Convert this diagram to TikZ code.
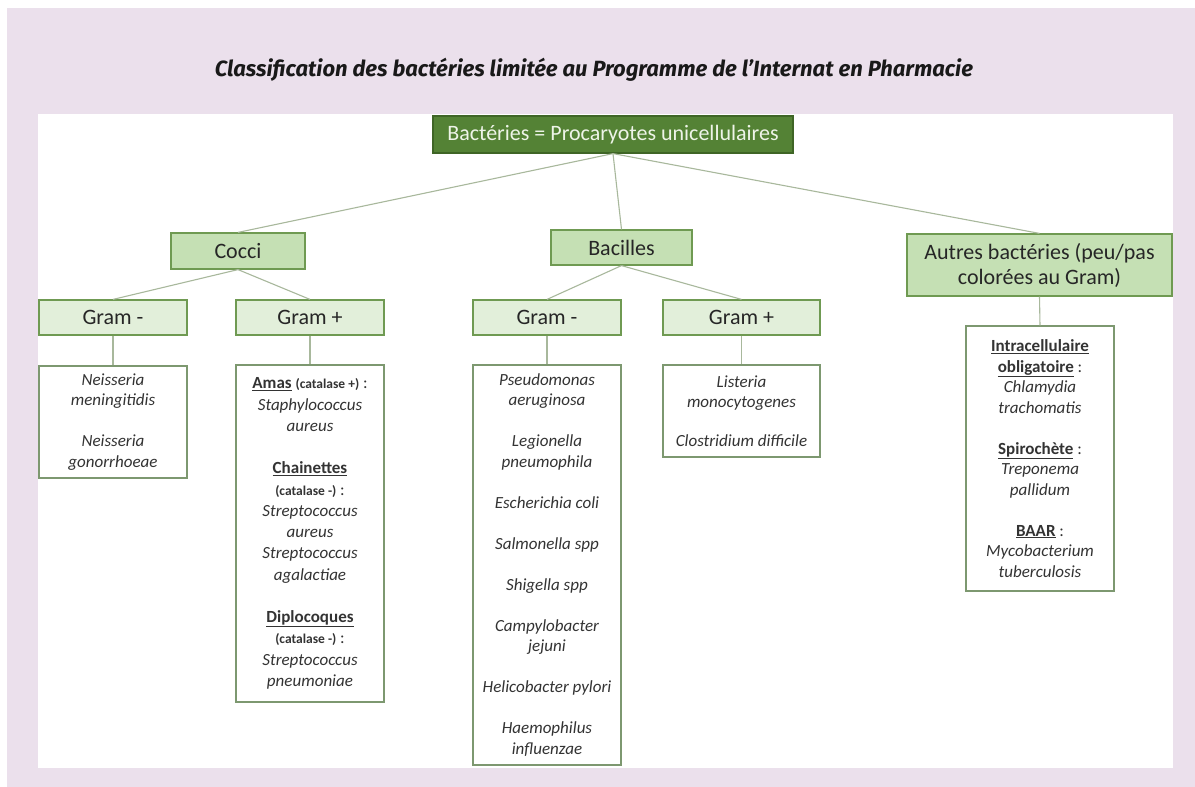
\documentclass[tikz,border=0pt]{standalone}
\usepackage{fontspec}
\setmainfont{Carlito}
\newfontfamily\titlefont{Fira Sans}
\definecolor{lav}{HTML}{EBE0EC}
\definecolor{rootfill}{HTML}{548235}
\definecolor{rootborder}{HTML}{3F6526}
\definecolor{midfill}{HTML}{C5E0B4}
\definecolor{gramfill}{HTML}{E2EFDA}
\definecolor{boxborder}{HTML}{6F9A52}
\definecolor{leafborder}{HTML}{7D9870}
\definecolor{edgecol}{HTML}{A8B89C}
\definecolor{leaftext}{HTML}{333333}
\definecolor{roottext}{HTML}{EEF4E8}
\newcommand{\hd}[1]{\textbf{\upshape\underline{#1}}}
\newcommand{\ct}[1]{{\upshape\bfseries\fontsize{13.5}{16}\selectfont #1}}
\begin{document}
\begin{tikzpicture}[x=1pt,y=-1pt,
  rootbox/.style={draw=rootborder,fill=rootfill,text=roottext,line width=1.2pt,inner sep=0pt,
    minimum width=360pt,minimum height=37pt,font=\fontsize{22}{26}\selectfont},
  midbox/.style={draw=boxborder,fill=midfill,text=black!85,line width=1.2pt,inner sep=0pt,
    align=center,font=\fontsize{22}{25}\selectfont},
  grambox/.style={midbox,fill=gramfill,minimum width=148pt,minimum height=35pt},
  leafbox/.style={draw=leafborder,fill=white,text=leaftext,line width=1.1pt,inner sep=0pt,
    align=center,minimum width=148pt,font=\fontsize{17}{20.5}\selectfont\itshape},
  edge/.style={draw=edgecol,line width=1.1pt}]
\useasboundingbox (0,0) rectangle (1195,787);
\fill[white] (0,0) rectangle (1195,787);
\fill[lav] (7,8) rectangle (1195,787);
\fill[white] (38,114) rectangle (1173,768);
\node[font=\titlefont\bfseries\itshape\fontsize{22}{26}\selectfont,text=black!90] (title) at (594,70)
  {Classification des bactéries limitée au Programme de l’Internat en Pharmacie};
% level 0
\node[rootbox] (root) at (613,134.5) {Bactéries = Procaryotes unicellulaires};
% level 1
\node[midbox,minimum width=134pt,minimum height=36pt] (cocci) at (238,251) {Cocci};
\node[midbox,minimum width=141pt,minimum height=35pt] (bacilles) at (621.5,247.5) {Bacilles};
\node[midbox,minimum width=265pt,minimum height=62pt] (autres) at (1039.5,265) {Autres bactéries (peu/pas\\colorées au Gram)};
% level 2
\node[grambox] (cgm) at (113,317.5) {Gram -};
\node[grambox] (cgp) at (310,317.5) {Gram +};
\node[grambox] (bgm) at (547,317.5) {Gram -};
\node[grambox,minimum width=157pt] (bgp) at (741.5,317.5) {Gram +};
% leaves
\node[leafbox,minimum height=112pt] (l1) at (113,422)
  {Neisseria\\meningitidis\\[20.5pt]Neisseria\\gonorrhoeae};
\node[leafbox,minimum height=337pt,font=\fontsize{17}{21.3}\selectfont\itshape] (l2) at (310,533.5)
  {\hd{Amas} \ct{(catalase +)} {\upshape :}\\Staphylococcus\\aureus\\[21pt]
   \hd{Chainettes}\\\ct{(catalase -)} {\upshape :}\\Streptococcus\\aureus\\Streptococcus\\agalactiae\\[21pt]
   \hd{Diplocoques}\\\ct{(catalase -)} {\upshape :}\\Streptococcus\\pneumoniae};
\node[leafbox,minimum height=400pt] (l3) at (547,565)
  {Pseudomonas\\aeruginosa\\[20.5pt]Legionella\\pneumophila\\[20.5pt]Escherichia coli\\[20.5pt]
   Salmonella spp\\[20.5pt]Shigella spp\\[20.5pt]Campylobacter\\jejuni\\[20.5pt]
   Helicobacter pylori\\[20.5pt]Haemophilus\\influenzae};
\node[leafbox,minimum width=157pt,minimum height=92pt] (l4) at (741.5,411)
  {Listeria\\monocytogenes\\[18pt]Clostridium difficile};
\node[leafbox,minimum height=265pt] (l5) at (1040,458.5)
  {\hd{Intracellulaire}\\\hd{obligatoire} {\upshape :}\\Chlamydia\\trachomatis\\[20.5pt]
   \hd{Spirochète} {\upshape :}\\Treponema\\pallidum\\[20.5pt]
   \hd{BAAR} {\upshape :}\\Mycobacterium\\tuberculosis};
% edges
\draw[edge] (root.south) -- (cocci.north);
\draw[edge] (root.south) -- (bacilles.north);
\draw[edge] (root.south) -- (autres.north);
\draw[edge] (cocci.south) -- (cgm.north);
\draw[edge] (cocci.south) -- (cgp.north);
\draw[edge] (bacilles.south) -- (bgm.north);
\draw[edge] (bacilles.south) -- (bgp.north);
\draw[edge] (cgm.south) -- (l1.north);
\draw[edge] (cgp.south) -- (l2.north);
\draw[edge] (bgm.south) -- (l3.north);
\draw[edge] (bgp.south) -- (l4.north);
\draw[edge] (autres.south) -- (l5.north);
\end{tikzpicture}
\end{document}
